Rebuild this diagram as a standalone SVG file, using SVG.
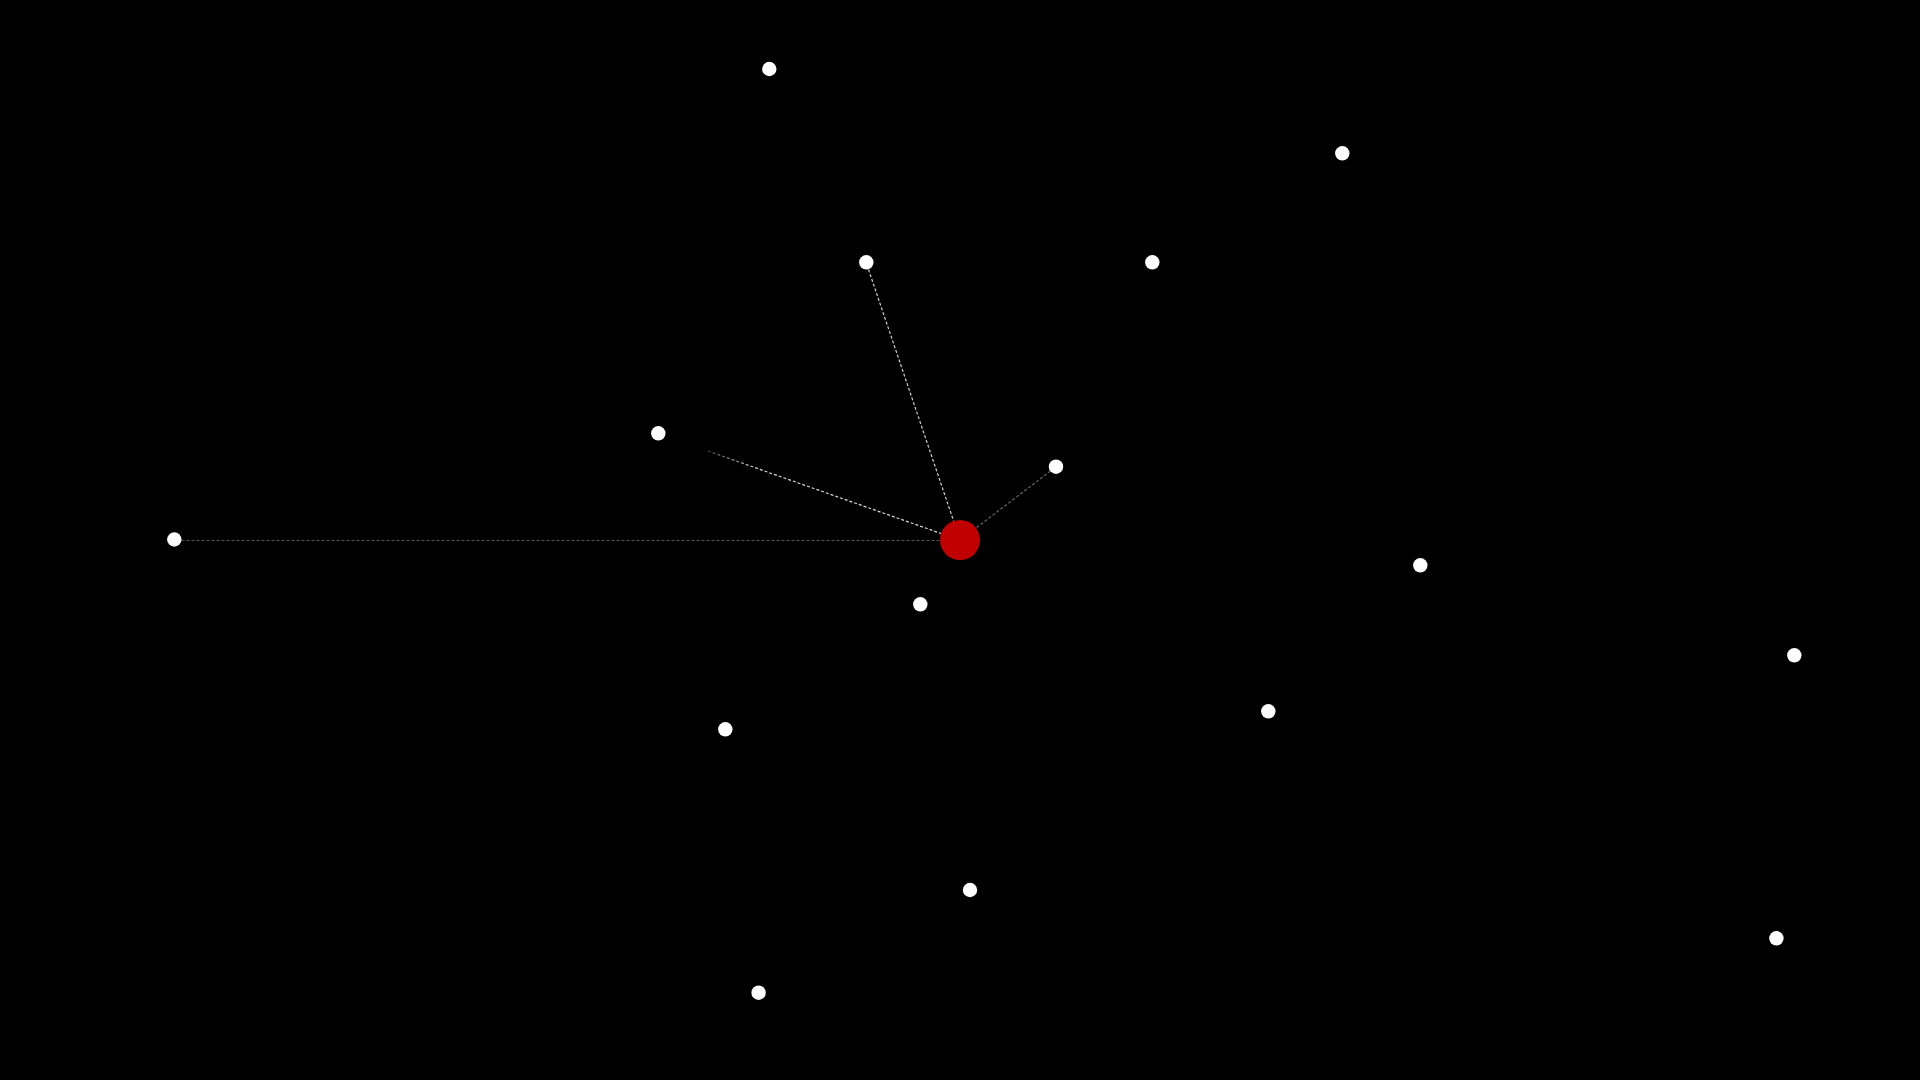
<svg xmlns="http://www.w3.org/2000/svg" width="1920" height="1080" viewBox="0 0 1920 1080">
<style>
.bg{fill:#000}
.n{fill:#fff}
.hub{fill:#c00000}
.e{fill:none;stroke-width:1.2;stroke-dasharray:3 2}
</style>
<defs>
<linearGradient id="fadeIn" gradientUnits="userSpaceOnUse" x1="708" y1="451" x2="760" y2="469">
<stop offset="0" stop-color="#d8d8d8" stop-opacity="0.3"/>
<stop offset="1" stop-color="#d8d8d8" stop-opacity="1"/>
</linearGradient>
</defs>
<rect class="bg" x="0" y="0" width="1920" height="1080"/>
<g id="connectors">
<line class="e" x1="181.5" y1="540.5" x2="940" y2="540.5" stroke="#555"/>
<line class="e" x1="708" y1="451" x2="941" y2="533.5" stroke="url(#fadeIn)"/>
<line class="e" x1="868.5" y1="269.5" x2="953.6" y2="521" stroke="#d0d0d0"/>
<line class="e" x1="1050.5" y1="471" x2="976" y2="528" stroke="#666"/>
</g>
<g id="hub"><circle class="hub" cx="960" cy="540" r="20"/></g>
<g id="n1"><circle class="n" cx="769.3" cy="69" r="7.2"/></g>
<g id="n2"><circle class="n" cx="1342.3" cy="153.3" r="7.2"/></g>
<g id="n3"><circle class="n" cx="866.3" cy="262.3" r="7.2"/></g>
<g id="n4"><circle class="n" cx="1152.3" cy="262.3" r="7.2"/></g>
<g id="n5"><circle class="n" cx="658.3" cy="433.3" r="7.2"/></g>
<g id="n6"><circle class="n" cx="1056" cy="466.7" r="7.2"/></g>
<g id="n7"><circle class="n" cx="174.3" cy="539.5" r="7.2"/></g>
<g id="n8"><circle class="n" cx="1420.3" cy="565.3" r="7.2"/></g>
<g id="n9"><circle class="n" cx="920.3" cy="604.3" r="7.2"/></g>
<g id="n10"><circle class="n" cx="1794.3" cy="655.3" r="7.2"/></g>
<g id="n11"><circle class="n" cx="1268.3" cy="711.3" r="7.2"/></g>
<g id="n12"><circle class="n" cx="725.3" cy="729.3" r="7.2"/></g>
<g id="n13"><circle class="n" cx="970" cy="890" r="7.2"/></g>
<g id="n14"><circle class="n" cx="1776.4" cy="938.3" r="7.2"/></g>
<g id="n15"><circle class="n" cx="758.6" cy="992.7" r="7.2"/></g>
</svg>
